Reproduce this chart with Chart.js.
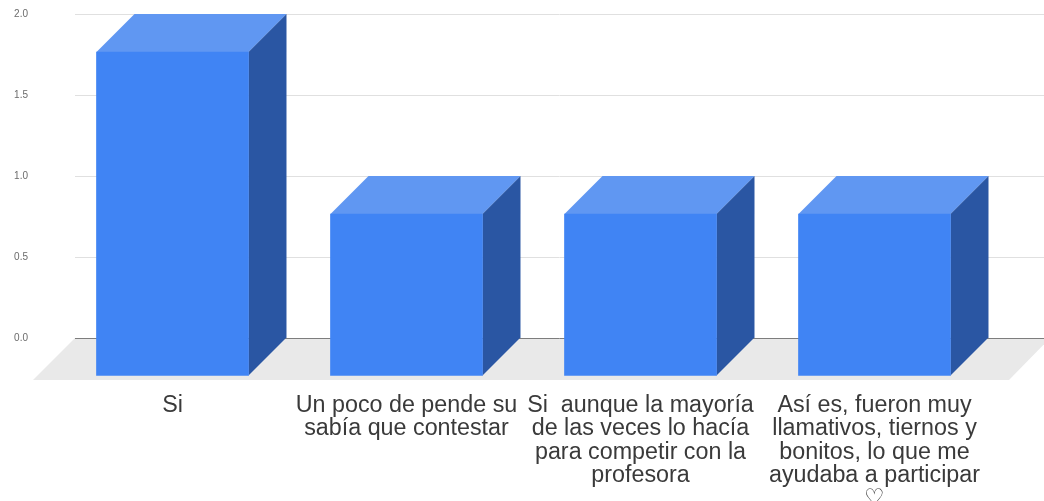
<!DOCTYPE html>
<html>
<head>
<meta charset="utf-8">
<title>Respuestas</title>
<script src="https://cdn.jsdelivr.net/npm/chart.js@4"></script>
<style>
  html, body { margin: 0; padding: 0; background: #fff; overflow: hidden; }
  #wrap { width: 1044px; height: 501px; }
</style>
</head>
<body>
<div id="wrap"><canvas id="grafico" width="1044" height="501"></canvas></div>
<script>
const categorias = [
  ['Si'],
  ['Un poco de pende su', 'sabía que contestar'],
  ['Si  aunque la mayoría', 'de las veces lo hacía', 'para competir con la', 'profesora'],
  ['Así es, fueron muy', 'llamativos, tiernos y', 'bonitos, lo que me', 'ayudaba a participar', '♡']
];
const valores = [2, 1, 1, 1];
const marcasY = [0, 0.5, 1, 1.5, 2];

// fake 3D depth of the bars, in pixels
const fondo = 38;

const caras3d = {
  id: 'caras3d',
  beforeDraw(chart) {
    // grey floor under the bars
    const { ctx, chartArea } = chart;
    const y0 = chart.scales.y.getPixelForValue(0);
    ctx.save();
    ctx.fillStyle = '#e9e9e9';
    ctx.beginPath();
    ctx.moveTo(chartArea.left, y0);
    ctx.lineTo(chartArea.right + 6, y0);
    ctx.lineTo(chartArea.right - 35, y0 + fondo + 4);
    ctx.lineTo(chartArea.left - 42, y0 + fondo + 4);
    ctx.closePath();
    ctx.fill();
    ctx.restore();
  },
  beforeDatasetDraw(chart) {
    const ctx = chart.ctx;
    chart.getDatasetMeta(0).data.forEach(bar => {
      const der = bar.x + bar.width / 2;
      const izq = bar.x - bar.width / 2;
      // top face
      ctx.fillStyle = '#6097f2';
      ctx.beginPath();
      ctx.moveTo(izq - fondo, bar.y + fondo);
      ctx.lineTo(izq, bar.y);
      ctx.lineTo(der, bar.y);
      ctx.lineTo(der - fondo, bar.y + fondo);
      ctx.closePath();
      ctx.fill();
      // side face
      ctx.fillStyle = '#2a56a3';
      ctx.beginPath();
      ctx.moveTo(der - fondo, bar.y + fondo);
      ctx.lineTo(der, bar.y);
      ctx.lineTo(der, bar.base);
      ctx.lineTo(der - fondo, bar.base + fondo);
      ctx.closePath();
      ctx.fill();
    });
    // the front face is the library's own bar, moved forward
    ctx.save();
    ctx.translate(-fondo, fondo);
  },
  afterDatasetDraw(chart) {
    chart.ctx.restore();
  }
};

new Chart(document.getElementById('grafico').getContext('2d'), {
  type: 'bar',
  data: {
    datasets: [{
      data: valores.map((v, i) => ({ x: i, y: v })),
      backgroundColor: '#4084f4',
      borderWidth: 0,
      barThickness: 152,
      clip: false
    }]
  },
  options: {
    responsive: false,
    animation: false,
    layout: { padding: { top: 14, right: 0, left: 0, bottom: 0 } },
    plugins: { legend: { display: false }, tooltip: { enabled: false } },
    scales: {
      x: {
        type: 'linear',
        offset: false,
        bounds: 'data',
        min: -0.579,
        max: 3.562,
        afterBuildTicks: scale => {
          scale.ticks = categorias.map((c, i) => ({ value: i }));
        },
        afterFit: scale => {
          scale.height = 163;
          scale.paddingLeft = 0;
          scale.paddingRight = 0;
        },
        grid: { display: false },
        border: { display: false },
        ticks: {
          autoSkip: false,
          maxRotation: 0,
          minRotation: 0,
          labelOffset: -fondo,
          padding: 48,
          color: '#3a3a3a',
          font: { family: '"Liberation Sans", Arial, sans-serif', size: 23.3, lineHeight: 1 },
          callback: v => categorias[v]
        }
      },
      y: {
        min: 0,
        max: 2,
        afterBuildTicks: scale => {
          scale.ticks = marcasY.map(v => ({ value: v }));
        },
        afterFit: scale => {
          scale.width = 75;
          scale.paddingTop = 0;
          scale.paddingBottom = 0;
        },
        border: { display: false },
        grid: {
          drawTicks: false,
          lineWidth: 1,
          color: c => (c.tick.value === 0 ? '#7d7d7d' : '#e0e0e0')
        },
        ticks: {
          padding: 47,
          color: '#6b6b6b',
          font: { family: '"Liberation Sans", Arial, sans-serif', size: 10 },
          callback: v => v.toFixed(1)
        }
      }
    }
  },
  plugins: [caras3d]
});
</script>
</body>
</html>
